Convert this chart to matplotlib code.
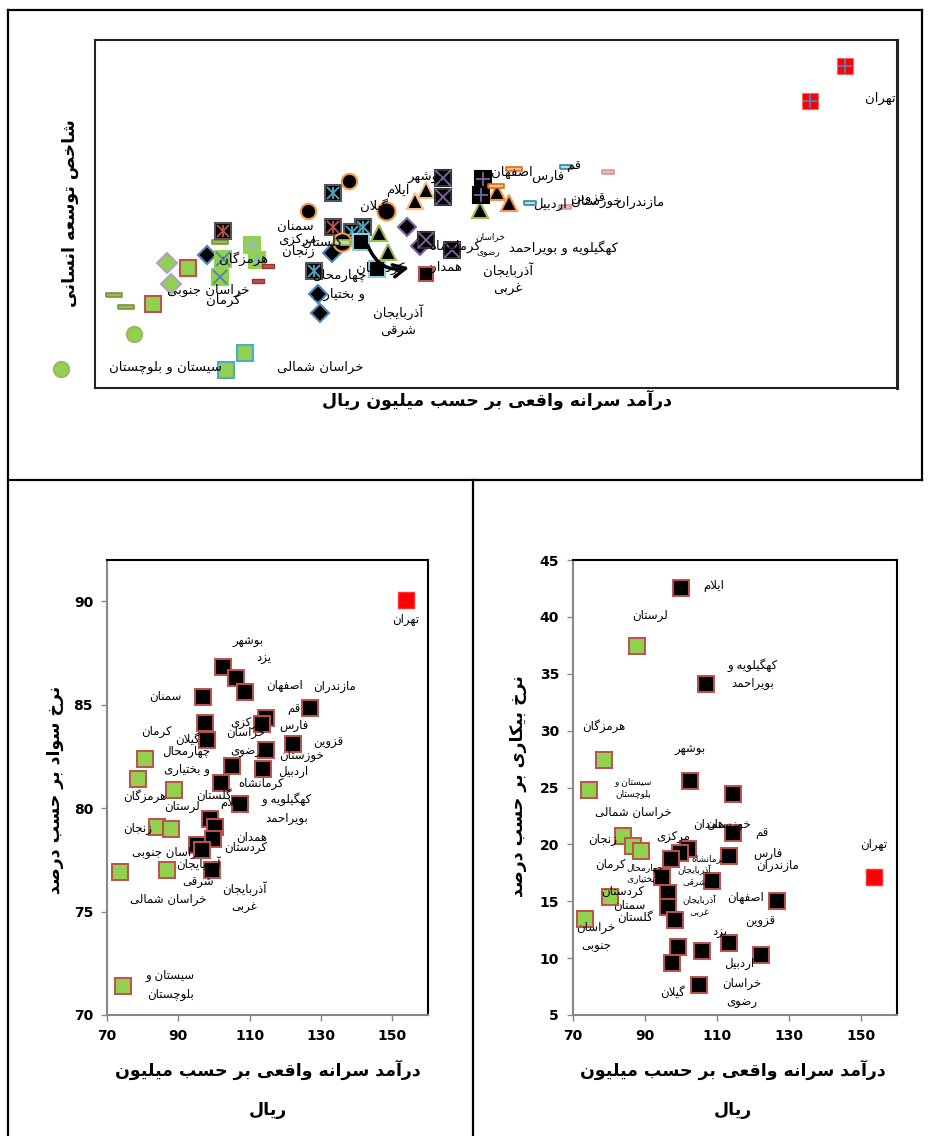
import matplotlib
matplotlib.use('Agg')
import matplotlib.pyplot as plt
from matplotlib.lines import Line2D

# ---- persian shaping (matplotlib has no bidi / joining) ----
FORMS = {
    'ا': (0xFE8D, 0xFE8E), 'آ': (0xFE81, 0xFE82),
    'ب': (0xFE8F, 0xFE90, 0xFE91, 0xFE92), 'پ': (0xFB56, 0xFB57, 0xFB58, 0xFB59),
    'ت': (0xFE95, 0xFE96, 0xFE97, 0xFE98), 'ث': (0xFE99, 0xFE9A, 0xFE9B, 0xFE9C),
    'ج': (0xFE9D, 0xFE9E, 0xFE9F, 0xFEA0), 'چ': (0xFB7A, 0xFB7B, 0xFB7C, 0xFB7D),
    'ح': (0xFEA1, 0xFEA2, 0xFEA3, 0xFEA4), 'خ': (0xFEA5, 0xFEA6, 0xFEA7, 0xFEA8),
    'د': (0xFEA9, 0xFEAA), 'ذ': (0xFEAB, 0xFEAC), 'ر': (0xFEAD, 0xFEAE),
    'ز': (0xFEAF, 0xFEB0), 'ژ': (0xFB8A, 0xFB8B),
    'س': (0xFEB1, 0xFEB2, 0xFEB3, 0xFEB4), 'ش': (0xFEB5, 0xFEB6, 0xFEB7, 0xFEB8),
    'ص': (0xFEB9, 0xFEBA, 0xFEBB, 0xFEBC), 'ض': (0xFEBD, 0xFEBE, 0xFEBF, 0xFEC0),
    'ط': (0xFEC1, 0xFEC2, 0xFEC3, 0xFEC4), 'ظ': (0xFEC5, 0xFEC6, 0xFEC7, 0xFEC8),
    'ع': (0xFEC9, 0xFECA, 0xFECB, 0xFECC), 'غ': (0xFECD, 0xFECE, 0xFECF, 0xFED0),
    'ف': (0xFED1, 0xFED2, 0xFED3, 0xFED4), 'ق': (0xFED5, 0xFED6, 0xFED7, 0xFED8),
    'ک': (0xFB8E, 0xFB8F, 0xFB90, 0xFB91), 'گ': (0xFB92, 0xFB93, 0xFB94, 0xFB95),
    'ل': (0xFEDD, 0xFEDE, 0xFEDF, 0xFEE0), 'م': (0xFEE1, 0xFEE2, 0xFEE3, 0xFEE4),
    'ن': (0xFEE5, 0xFEE6, 0xFEE7, 0xFEE8), 'و': (0xFEED, 0xFEEE),
    'ه': (0xFEE9, 0xFEEA, 0xFEEB, 0xFEEC), 'ی': (0xFBFC, 0xFBFD, 0xFBFE, 0xFBFF),
}
LAM_ALEF = {'ا': (0xFEFB, 0xFEFC), 'آ': (0xFEF5, 0xFEF6)}


def shape_line(s):
    s = s.replace('ي', 'ی').replace('ك', 'ک')
    out = []
    i = 0
    n = len(s)
    while i < n:
        c = s[i]
        f = FORMS.get(c)
        if f is None:
            out.append(c)
            i += 1
            continue
        prev = s[i - 1] if i > 0 else ''
        joins_prev = prev in FORMS and len(FORMS[prev]) == 4
        if c == 'ل' and i + 1 < n and s[i + 1] in LAM_ALEF:
            lig = LAM_ALEF[s[i + 1]]
            out.append(chr(lig[1] if joins_prev else lig[0]))
            i += 2
            continue
        nxt = s[i + 1] if i + 1 < n else ''
        joins_next = len(f) == 4 and nxt in FORMS
        if joins_prev and joins_next:
            code = f[3]
        elif joins_prev:
            code = f[1]
        elif joins_next:
            code = f[2]
        else:
            code = f[0]
        out.append(chr(code))
        i += 1
    return ''.join(reversed(out))


def fa(s):
    return '\n'.join(shape_line(l) for l in s.split('\n'))


# ---------------- data ----------------
# top panel: human development index vs real income (series read off the picture)
tehran_x = [158.2, 153.6]
tehran_y = [0.831, 0.806]
circ_orange_x = [93.2, 87.9]
circ_orange_y = [0.749, 0.727]
gilan_x = [98.1, 92.3]
gilan_y = [0.727, 0.705]
teal_star_x = [91.2, 95.05, 93.6, 88.7]
teal_star_y = [0.740, 0.716, 0.712, 0.684]
red_star_x = [76.8, 91.2]
red_star_y = [0.713, 0.716]
purple_x_x = [105.6, 105.5, 103.4, 106.8]
purple_x_y = [0.751, 0.737, 0.706, 0.699]
purple_plus_x = [110.8, 110.6]
purple_plus_y = [0.750, 0.739]
green_x_x = [76.8, 76.4]
green_x_y = [0.693, 0.680]
green_plus_x = [80.5, 81.2]
green_plus_y = [0.703, 0.692]
green_red_x = [72.2, 67.55]
green_red_y = [0.686, 0.660]
green_teal_x = [79.6, 77.15]
green_teal_y = [0.625, 0.613]
green_dia_x = [69.4, 70.0]
green_dia_y = [0.690, 0.675]
blue_dia_x = [74.7, 91.0, 89.2, 89.4]
blue_dia_y = [0.6955, 0.697, 0.6675, 0.654]
purple_dia_x = [100.9, 102.55]
purple_dia_y = [0.716, 0.702]
olive_tri_x = [97.2, 98.3, 110.4]
olive_tri_y = [0.711, 0.698, 0.728]
salmon_tri_x = [103.3, 101.9]
salmon_tri_y = [0.742, 0.734]
orange_tri_x = [112.6, 114.2]
orange_tri_y = [0.741, 0.733]
lblue_sq_x = [94.8, 96.9]
lblue_sq_y = [0.705, 0.6855]
red_sq_x = [103.4]
red_sq_y = [0.682]
olive_dash_x = [76.4, 62.5, 64.1, 92.3]
olive_dash_y = [0.705, 0.667, 0.658, 0.705]
red_dash_x = [82.7, 81.4]
red_dash_y = [0.688, 0.677]
orange_dash_x = [114.8, 112.5]
orange_dash_y = [0.757, 0.745]
teal_dash_x = [121.7, 117.0]
teal_dash_y = [0.759, 0.733]
pink_dash_x = [127.2, 121.5]
pink_dash_y = [0.755, 0.730]
green_circ_x = [65.1, 55.55]
green_circ_y = [0.639, 0.614]

top_labels = ['تهران', 'مازندران', 'قزوین', 'خوزستان', 'اردبیل', 'قم', 'فارس', 'اصفهان',
              'بوشهر', 'ایلام', 'گیلان', 'سمنان', 'مرکزی', 'گلستان', 'زنجان', 'هرمزگان',
              'کردستان', 'چهارمحال\nو بختیاری', 'خراسان جنوبی', 'کرمان', 'کرمانشاه',
              'کهگیلویه و بویراحمد', 'آذربایجان\nغربی', 'همدان', 'آذربایجان\nشرقی',
              'سیستان و بلوچستان', 'خراسان شمالی']
top_label_x = [162.8, 131.35, 124.5, 125.6, 119.6, 122.6, 119.3, 114.6, 103.2, 99.7, 96.5,
               86.2, 86.45, 89.7, 86.6, 79.4, 97.3, 92.0, 74.8, 76.8, 107.1, 121.3, 114.1,
               105.8, 99.7, 69.2, 89.5]
top_label_y = [0.808, 0.733, 0.736, 0.734, 0.732, 0.760, 0.752, 0.755, 0.751, 0.742, 0.731,
               0.716, 0.706, 0.705, 0.698, 0.693, 0.686, 0.674, 0.670, 0.663, 0.702, 0.701,
               0.678, 0.687, 0.648, 0.615, 0.615]

# bottom-left: literacy rate (%) vs real income
lit_black_x = [102.6, 106.1, 108.6, 96.8, 126.9, 97.4, 114.6, 113.5, 97.9, 122.2, 114.5,
               105.1, 113.7, 102.1, 107.2, 98.8, 100.2, 99.8, 95.3, 96.5, 99.3]
lit_black_y = [86.85, 86.3, 85.6, 85.4, 84.86, 84.1, 84.35, 84.06, 83.3, 83.1, 82.8,
               82.05, 81.9, 81.2, 80.2, 79.5, 79.1, 78.5, 78.2, 78.0, 77.0]
lit_green_x = [80.7, 78.8, 88.9, 84.0, 88.0, 73.7, 86.8, 74.6]
lit_green_y = [82.4, 81.4, 80.9, 79.1, 79.0, 76.9, 77.0, 71.4]
lit_tehran_x = [153.7]
lit_tehran_y = [90.05]

lit_labels = ['تهران', 'بوشهر', 'یزد', 'اصفهان', 'مازندران', 'سمنان', 'قم', 'مرکزی', 'فارس',
              'کرمان', 'گیلان', 'خراسان\nرضوی', 'قزوین', 'چهارمحال\nو بختیاری', 'خوزستان',
              'اردبیل', 'کرمانشاه', 'هرمزگان', 'گلستان', 'ایلام', 'کهگیلویه و\nبویراحمد',
              'لرستان', 'زنجان', 'همدان', 'کردستان', 'خراسان جنوبی', 'آذربایجان\nشرقی',
              'آذربایجان\nغربی', 'خراسان شمالی', 'سیستان و\nبلوچستان']
lit_label_x = [153.7, 109.7, 113.9, 119.9, 133.9, 86.3, 122.4, 109.2, 122.4, 83.8, 92.5,
               108.9, 132.0, 92.3, 124.4, 122.1, 113.1, 80.7, 99.9, 104.6, 120.4, 91.1,
               78.7, 110.6, 108.9, 87.2, 95.6, 108.6, 87.2, 87.7]
lit_label_y = [89.13, 88.07, 87.25, 85.95, 85.86, 85.42, 84.84, 84.12, 83.98, 83.69, 83.35,
               83.2, 83.16, 82.29, 82.53, 81.76, 81.18, 80.6, 80.6, 80.27, 79.98, 80.07,
               79.01, 78.58, 78.1, 77.86, 76.89, 75.69, 75.59, 71.45]

# bottom-right: unemployment rate (%) vs real income
un_black_x = [100.1, 107.0, 102.4, 114.4, 114.4, 113.3, 101.9, 99.7, 97.3, 94.8, 108.5,
              96.3, 126.8, 96.5, 98.4, 113.3, 99.1, 105.9, 122.1, 97.5, 104.9]
un_black_y = [42.5, 34.1, 25.6, 24.4, 21.0, 19.0, 19.6, 19.2, 18.7, 17.1, 16.8,
              15.7, 15.05, 14.5, 13.35, 11.35, 11.0, 10.6, 10.3, 9.6, 7.6]
un_green_x = [87.9, 78.6, 74.4, 84.0, 86.8, 88.9, 80.4, 73.4]
un_green_y = [37.4, 27.4, 24.8, 20.7, 19.9, 19.4, 15.4, 13.4]
un_tehran_x = [153.7]
un_tehran_y = [17.1]

un_labels = ['ایلام', 'لرستان', 'کهگیلویه و\nبویراحمد', 'هرمزگان', 'بوشهر',
             'خراسان شمالی', 'خوزستان', 'همدان', 'قم', 'مرکزی', 'زنجان', 'تهران', 'فارس',
             'کرمان', 'مازندران', 'کردستان', 'سمنان', 'اصفهان', 'خراسان\nجنوبی', 'گلستان',
             'قزوین', 'یزد', 'اردبیل', 'خراسان\nرضوی', 'گیلان']
un_label_x = [109.1, 91.5, 119.8, 78.6, 102.4, 86.7, 113.3, 107.7, 122.4, 97.9, 78.3,
              153.6, 124.0, 80.4, 126.8, 83.9, 85.7, 117.9, 76.4, 87.3, 122.1, 110.9,
              116.1, 116.8, 97.7]
un_label_y = [42.8, 40.08, 34.98, 30.41, 28.38, 22.76, 21.79, 21.79, 21.0, 20.65, 20.47,
              20.03, 19.24, 18.27, 18.1, 15.9, 14.67, 15.29, 11.86, 13.62, 13.18, 12.21,
              9.57, 6.93, 7.02]
un_small_labels = ['سیستان و\nبلوچستان', 'کرمانشاه', 'چهارمحال\nو بختیاری',
                   'آذربایجان\nشرقی', 'آذربایجان\nغربی']
un_small_x = [86.7, 107.7, 89.9, 103.8, 105.1]
un_small_y = [24.96, 18.71, 17.48, 17.22, 14.58]

# ---------------- figure ----------------
W, H = 930, 1136
fig = plt.figure(figsize=(W / 100, H / 100), dpi=100)


def box(x0, y0, x1, y1):
    return [x0 / W, 1 - y1 / H, (x1 - x0) / W, (y1 - y0) / H]


PFONT = ['DejaVu Sans']
GREEN = '#92D050'
RED_E = '#C0504D'
TEAL = '#4BACC6'
BLUE = '#4F81BD'
PURPLE = '#8064A2'
ORANGE = '#F79646'
OLIVE = '#9BBB59'
dash = [(-1, -0.3), (1, -0.3), (1, 0.3), (-1, 0.3), (-1, -0.3)]

# frame lines of the page
for (x0, y0, x1, y1) in [(8, 10, 922, 10), (8, 480, 922, 480), (922, 10, 922, 480),
                         (8, 10, 8, H), (473, 480, 473, H)]:
    fig.add_artist(Line2D([x0 / W, x1 / W], [1 - y0 / H, 1 - y1 / H], color='black', lw=1.6))

# ---- top panel ----
ax = fig.add_axes(box(95, 40, 897, 388))
ax.set_xlim(60, 165)
ax.set_ylim(0.60, 0.85)
ax.set_xticks([])
ax.set_yticks([])
for s in ax.spines.values():
    s.set_color('#222222')
    s.set_linewidth(1.5)
ax.spines['right'].set_linewidth(2.2)


def mk(xs, ys, marker, face, edge, ms=10.5, mew=1.5, over=None, ocol=None, ofrac=0.85):
    ax.plot(xs, ys, ls='none', marker=marker, ms=ms, mfc=face, mec=edge, mew=mew, clip_on=False)
    for o in (over or []):
        ax.plot(xs, ys, ls='none', marker=o, ms=ms * ofrac, mec=ocol, mew=1.3, clip_on=False)


mk(green_circ_x, green_circ_y, 'o', GREEN, OLIVE, ms=11)
mk(green_teal_x, green_teal_y, 's', GREEN, TEAL, ms=11)
mk(green_red_x, green_red_y, 's', GREEN, RED_E, ms=11)
mk(green_dia_x, green_dia_y, 'D', GREEN, '#B3A2C7', ms=10)
mk(olive_dash_x[:3], olive_dash_y[:3], dash, '#9BBB59', '#77933C', ms=11, mew=1.2)
mk(blue_dia_x, blue_dia_y, 'D', 'black', BLUE, ms=9)
mk(green_x_x, green_x_y, 's', GREEN, GREEN, ms=12, over=['x'], ocol=BLUE)
mk(green_plus_x, green_plus_y, 's', GREEN, GREEN, ms=12, over=['+'], ocol='#95B3D7')
mk(red_dash_x, red_dash_y, dash, '#C0504D', '#943634', ms=8, mew=1)
mk(red_star_x, red_star_y, 's', 'black', '#555555', ms=11, over=['x', '|'], ocol=RED_E)
mk(teal_star_x, teal_star_y, 's', 'black', '#555555', ms=11, over=['x', '|'], ocol=TEAL)
mk(circ_orange_x, circ_orange_y, 'o', 'black', ORANGE, ms=11)
mk(gilan_x, gilan_y, 'o', 'black', ORANGE, ms=13)
mk(olive_dash_x[3:], olive_dash_y[3:], dash, '#C3D69B', OLIVE, ms=12, mew=1.2)
mk(lblue_sq_x, lblue_sq_y, 's', 'black', '#93CDDD', ms=11)
mk(olive_tri_x, olive_tri_y, '^', 'black', OLIVE, ms=11)
mk(purple_dia_x, purple_dia_y, 'D', 'black', PURPLE, ms=9)
mk(salmon_tri_x, salmon_tri_y, '^', 'black', '#FABF8F', ms=11)
mk(purple_x_x, purple_x_y, 's', 'black', '#333333', ms=12, over=['x'], ocol=PURPLE, ofrac=0.95)
mk(red_sq_x, red_sq_y, 's', 'black', RED_E, ms=10)
mk(orange_tri_x, orange_tri_y, '^', 'black', ORANGE, ms=11)
mk(purple_plus_x, purple_plus_y, 's', 'black', 'black', ms=12, over=['+'], ocol=PURPLE)
mk(orange_dash_x, orange_dash_y, dash, '#FAC090', '#E46C0A', ms=11, mew=1.2)
mk(teal_dash_x, teal_dash_y, dash, '#B7DEE8', '#31859C', ms=8, mew=1.2)
mk(pink_dash_x, pink_dash_y, dash, '#E6B9B8', '#D99694', ms=8, mew=1.2)
mk(tehran_x, tehran_y, 's', '#FF0000', '#FF6666', ms=12, mew=0.8, over=['+'], ocol=BLUE)

ax.annotate('', xy=(101.5, 0.687), xytext=(95.6, 0.704),
            arrowprops=dict(arrowstyle='->', lw=2.5, color='black', mutation_scale=22,
                            connectionstyle='arc3,rad=0.45'))

for t, x, y in zip(top_labels, top_label_x, top_label_y):
    ax.text(x, y, fa(t), ha='center', va='center', fontsize=9.5, family=PFONT,
            linespacing=1.5, clip_on=False)
for t, x, y in zip(['خراسان', 'رضوی'], [111.7, 111.45], [0.709, 0.697]):
    ax.text(x, y, fa(t), ha='center', va='center', fontsize=6.5, family=PFONT)

fig.text(497 / W, 1 - 400 / H, fa('درآمد سرانه واقعی بر حسب میلیون ریال'), ha='center',
         va='center', fontsize=12.5, fontweight='bold', family=PFONT)
fig.text(70 / W, 1 - 213 / H, fa('شاخص توسعه انسانی'), ha='center', va='center',
         rotation=90, fontsize=12.5, fontweight='bold', family=PFONT)


# ---- bottom panels ----
def style_axes(a, yticks):
    a.set_xlim(70, 160)
    a.set_xticks([70, 90, 110, 130, 150])
    a.set_yticks(yticks)
    a.set_ylim(yticks[0], yticks[-1] + (2 if yticks[-1] == 90 else 0))
    for side in ['left', 'bottom']:
        a.spines[side].set_color('#888888')
        a.spines[side].set_linewidth(1.5)
    for side in ['top', 'right']:
        a.spines[side].set_color('black')
        a.spines[side].set_linewidth(1.5)
    a.tick_params(direction='out', length=4, width=1, color='#888888', pad=6,
                  labelsize=10)
    for lab in a.get_xticklabels() + a.get_yticklabels():
        lab.set_fontweight('bold')
        lab.set_family(['Liberation Sans Narrow', 'DejaVu Sans'])


def squares(a, xs, ys, face):
    a.plot(xs, ys, ls='none', marker='s', ms=12, mfc=face, mec=RED_E, mew=1.4, clip_on=False)


axl = fig.add_axes(box(107, 560, 428, 1015))
style_axes(axl, [70, 75, 80, 85, 90])
squares(axl, lit_black_x, lit_black_y, 'black')
squares(axl, lit_green_x, lit_green_y, GREEN)
axl.plot(lit_tehran_x, lit_tehran_y, ls='none', marker='s', ms=12, mfc='#FF0000',
         mec='#FF3333', mew=1)
for t, x, y in zip(lit_labels, lit_label_x, lit_label_y):
    axl.text(x, y, fa(t), ha='center', va='center', fontsize=8.5, family=PFONT,
             linespacing=1.5)

axr = fig.add_axes(box(573, 560, 897, 1015))
style_axes(axr, [5, 10, 15, 20, 25, 30, 35, 40, 45])
squares(axr, un_black_x, un_black_y, 'black')
squares(axr, un_green_x, un_green_y, GREEN)
axr.plot(un_tehran_x, un_tehran_y, ls='none', marker='s', ms=12, mfc='#FF0000',
         mec='#FF3333', mew=1)
for t, x, y in zip(un_labels, un_label_x, un_label_y):
    axr.text(x, y, fa(t), ha='center', va='center', fontsize=8.5, family=PFONT,
             linespacing=1.5)
for t, x, y in zip(un_small_labels, un_small_x, un_small_y):
    axr.text(x, y, fa(t), ha='center', va='center', fontsize=6.5, family=PFONT,
             linespacing=1.4)

fig.text(55 / W, 1 - 790 / H, fa('نرخ سواد بر حسب درصد'), ha='center', va='center',
         rotation=90, fontsize=12.5, fontweight='bold', family=PFONT)
fig.text(518 / W, 1 - 786 / H, fa('نرخ بیکاری بر حسب درصد'), ha='center', va='center',
         rotation=90, fontsize=12.5, fontweight='bold', family=PFONT)
for cx in (268, 733):
    fig.text(cx / W, 1 - 1070 / H, fa('درآمد سرانه واقعی بر حسب میلیون'), ha='center',
             va='center', fontsize=12.5, fontweight='bold', family=PFONT)
    fig.text(cx / W, 1 - 1110 / H, fa('ریال'), ha='center', va='center', fontsize=12.5,
             fontweight='bold', family=PFONT)

fig.savefig('out.png', dpi=100)
